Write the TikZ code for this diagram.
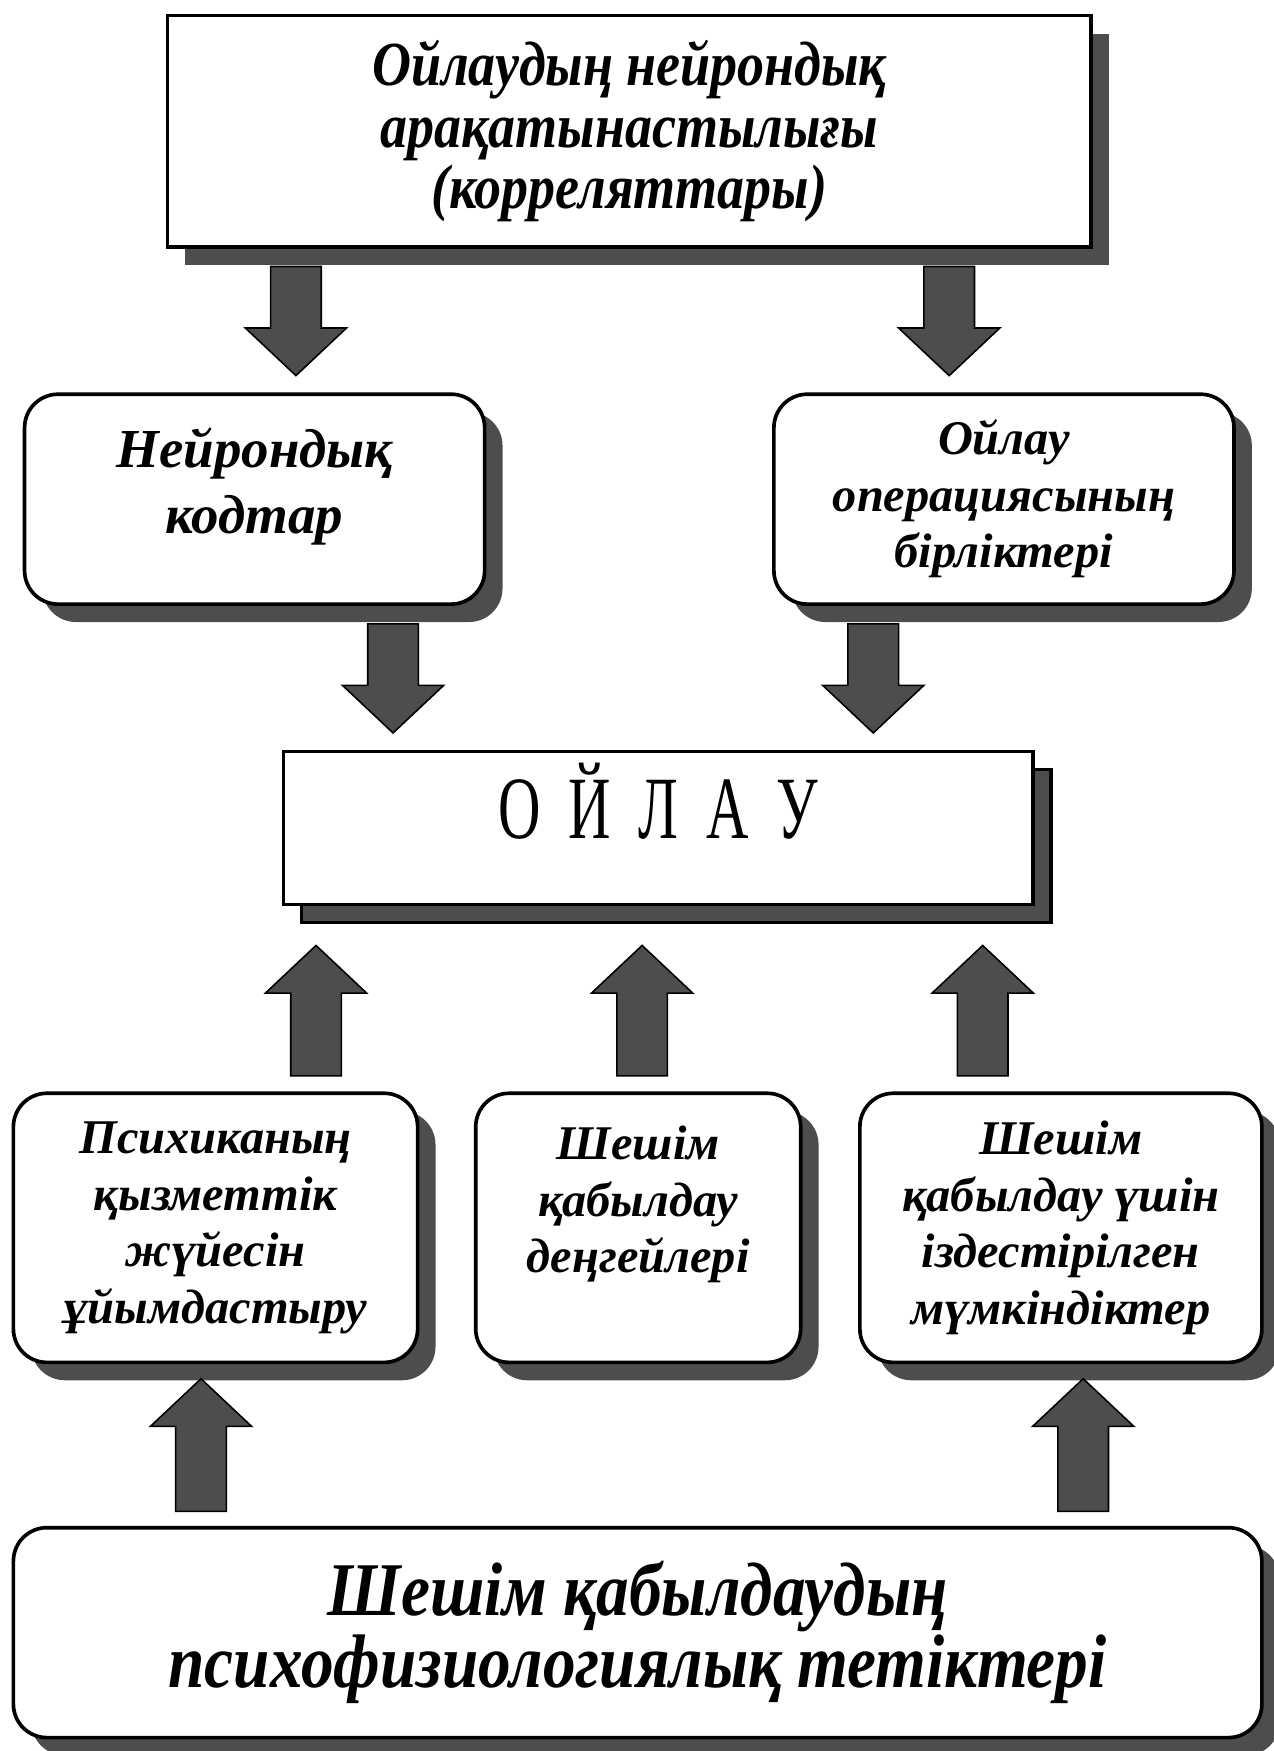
\documentclass[tikz,border=0pt]{standalone}
\usepackage{fontspec}
\setmainfont{Liberation Serif}
\newfontfamily\narrowserif[FakeStretch=0.86]{Liberation Serif}
\newfontfamily\spacedserif[FakeStretch=0.66,WordSpace=1.9]{Liberation Serif}
\usepackage{tikz}
\usetikzlibrary{calc, shadows}
\definecolor{KZShade}{RGB}{77,77,77}

% block arrow from #1 to #2 (head at #2)
\newcommand{\fatarrow}[2]{%
  \coordinate (fa-s) at (#1);
  \coordinate (fa-e) at (#2);
  \coordinate (fa-b) at ($(fa-e)!0.64cm!(fa-s)$);
  \draw[fatarrow] ($(fa-s)!0.34cm!90:(fa-e)$)
     -- ($(fa-b)!0.34cm!90:(fa-e)$) -- ($(fa-b)!0.68cm!90:(fa-e)$)
     -- (fa-e)
     -- ($(fa-b)!0.68cm!-90:(fa-e)$) -- ($(fa-b)!0.34cm!-90:(fa-e)$)
     -- ($(fa-s)!0.34cm!-90:(fa-e)$) -- cycle;}

\begin{document}
\begin{tikzpicture}[
      sqbox/.style={rectangle, draw=black, line width=1.4pt, fill=white,
                    align=center,
                    drop shadow={shadow xshift=0.24cm, shadow yshift=-0.24cm,
                                 fill=KZShade, opacity=1}},
      rbox/.style={sqbox, rounded corners=0.45cm},
      fatarrow/.style={draw=black, line width=0.6pt, fill=KZShade},
      big/.style={font=\fontsize{21}{25.5}\selectfont\bfseries\itshape},
      small/.style={font=\fontsize{18.5}{21.6}\selectfont\bfseries\itshape}
    ]
    \useasboundingbox (0,0) rectangle (17.1,-23.52);

    % Top — neural correlates
    \node[sqbox, minimum width=12.405cm, minimum height=3.105cm,
          font=\narrowserif\fontsize{24}{23.6}\selectfont\bfseries\itshape]
          (top) at (8.4525,-1.7625)
          {Ойлаудың нейрондық\\арақатынастылығы\\(корреляттары)};

    % Middle row
    \node[rbox, big, minimum width=6.18cm, minimum height=2.82cm,
          text depth=0.5cm]
          (kod) at (3.42,-6.705) {Нейрондық\\кодтар};
    \node[rbox, small, minimum width=6.18cm, minimum height=2.82cm]
          (oper) at (13.485,-6.705) {Ойлау\\операциясының\\бірліктері};

    % Centre — thinking
    \node[sqbox, minimum width=10.065cm, minimum height=2.055cm,
          text depth=0.72cm, font=\spacedserif\fontsize{34}{36}\selectfont,
          drop shadow={shadow xshift=0.24cm, shadow yshift=-0.24cm,
                       fill=KZShade, opacity=1, draw=black, line width=1.4pt}]
          (think) at (8.8425,-11.1225) {О Й Л А У};

    % Lower row
    \node[rbox, small, minimum width=5.43cm, minimum height=3.615cm]
          (psy) at (2.895,-16.4925)
          {Психиканың\\қызметтік\\жүйесін\\ұйымдастыру};
    \node[rbox, small, minimum width=4.365cm, minimum height=3.615cm]
          (lvl) at (8.5725,-16.4925)
          {Шешім\\қабылдау\\деңгейлері\\\mbox{}};
    \node[rbox, small, minimum width=5.40cm, minimum height=3.615cm]
          (opp) at (14.25,-16.4925)
          {Шешім\\қабылдау үшін\\іздестірілген\\мүмкіндіктер};

    % Bottom — mechanisms
    \node[rbox, minimum width=16.77cm, minimum height=2.82cm,
          font=\narrowserif\fontsize{29}{27.5}\selectfont\bfseries\itshape]
          (mech) at (8.565,-21.93)
          {Шешім қабылдаудың\\психофизиологиялық тетіктері};

    % Arrows down
    \foreach \xx/\from/\to in {3.975/top/kod, 12.75/top/oper,
                               5.28/kod/think, 11.73/oper/think}{
      \fatarrow{$(\xx,0 |- \from.south)+(0,-0.24)$}{$(\xx,0 |- \to.north)+(0,0.225)$}
    }
    % Arrows up
    \foreach \xx/\from/\to in {4.245/psy/think, 8.625/lvl/think, 13.2/opp/think}{
      \fatarrow{$(\xx,0 |- \from.north)+(0,0.21)$}{$(\xx,0 |- \to.south)+(0,-0.525)$}
    }
    \foreach \xx/\from/\to in {2.7/mech/psy, 14.55/mech/opp}{
      \fatarrow{$(\xx,0 |- \from.north)+(0,0.195)$}{$(\xx,0 |- \to.south)+(0,-0.195)$}
    }
  \end{tikzpicture}
\end{document}
